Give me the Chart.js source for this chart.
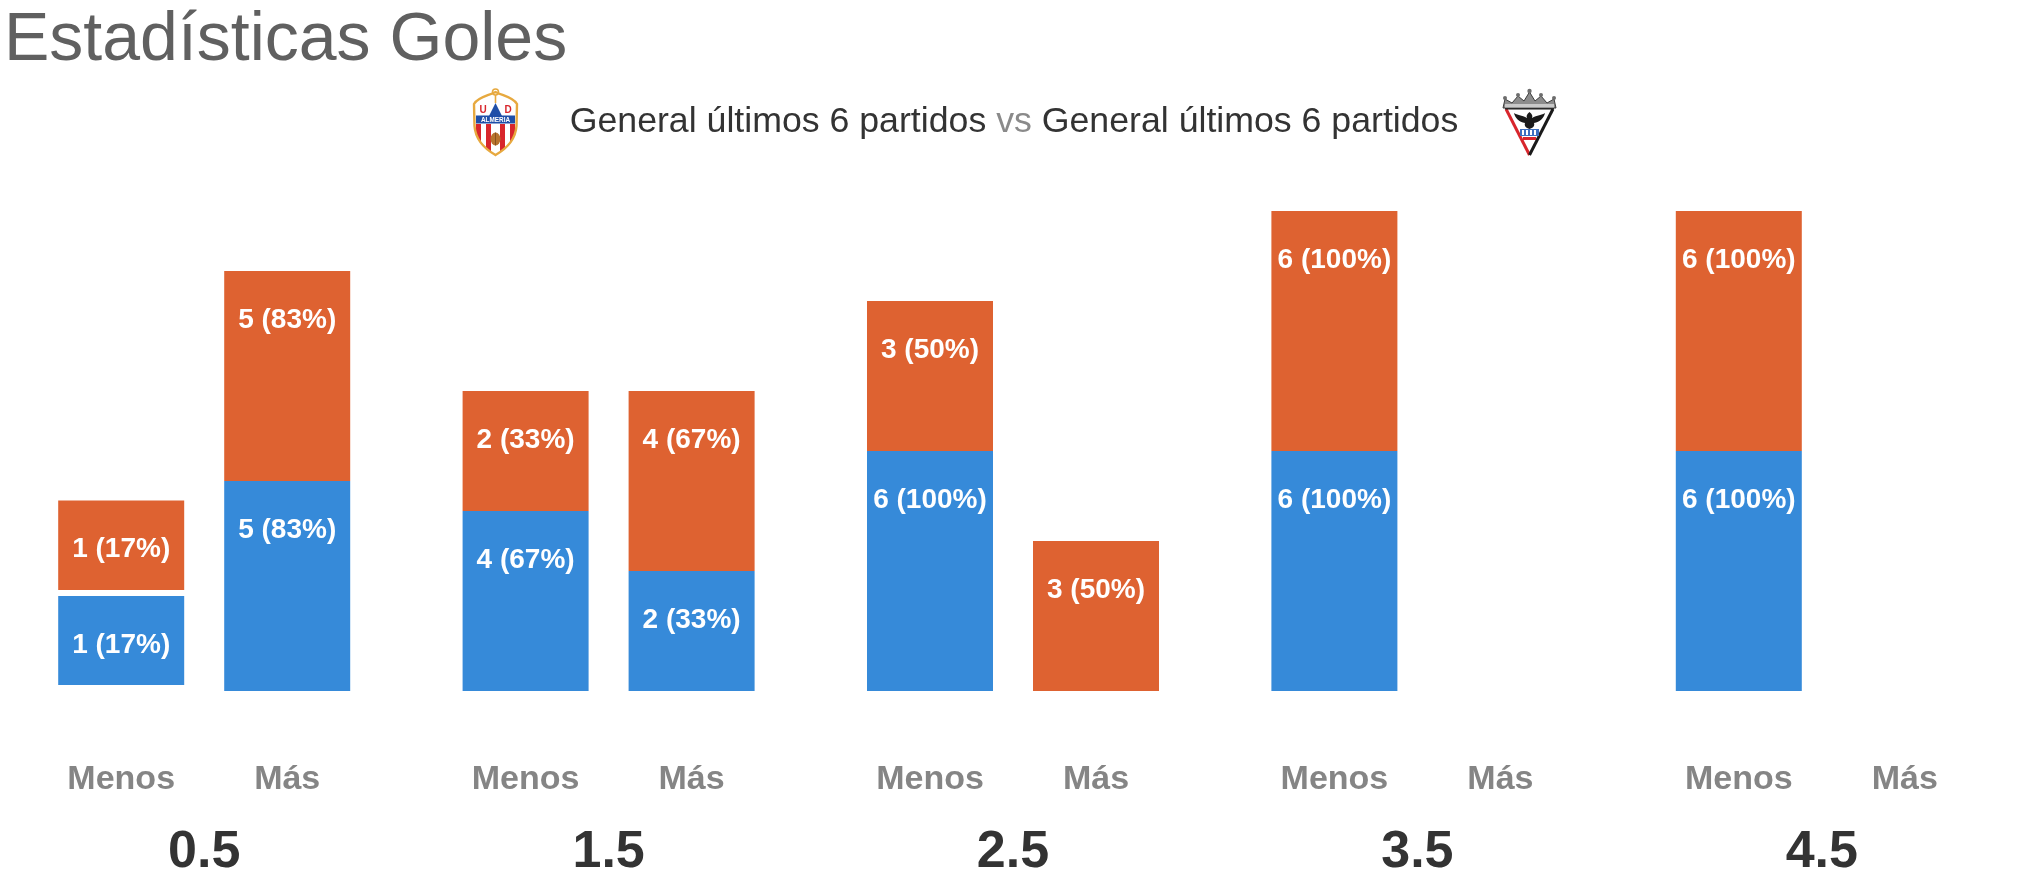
<!DOCTYPE html>
<html lang="es">
<head>
<meta charset="utf-8">
<title>Estadísticas Goles</title>
<script src="https://cdn.jsdelivr.net/npm/chart.js@4.4.1/dist/chart.umd.min.js"></script>
<style>
    html, body {
        margin: 0;
        padding: 0;
        background: #ffffff;
        overflow: hidden;
    }
    #page {
        position: relative;
        width: 2028px;
        height: 888px;
    }
    #goalsChart {
        position: absolute;
        left: 0;
        top: 0;
    }
    .title {
        position: absolute;
        left: 4px;
        top: 2px;
        font-family: "Liberation Sans", Arial, sans-serif;
        font-size: 68px;
        line-height: 1;
        color: #606060;
        white-space: nowrap;
    }
    .subtitle {
        position: absolute;
        left: 0;
        top: 103px;
        width: 2028px;
        text-align: center;
        font-family: "Liberation Sans", Arial, sans-serif;
        font-size: 35.7px;
        line-height: 1;
        color: #333333;
        white-space: nowrap;
    }
    .subtitle .vs {
        color: #8a8a8a;
    }
    .logo {
        position: absolute;
    }
</style>
</head>
<body>
<div id="page">
    <canvas id="goalsChart" width="2028" height="888"></canvas>

    <div class="title">Estadísticas Goles</div>

    <!-- escudo local -->
    <svg class="logo" style="left:470px; top:88px;" width="51" height="69" viewBox="0 0 51 69">
        <defs>
            <clipPath id="shieldClip">
                <path d="M25.5 4 C33 8 43 9 47 16 L46.5 38 C45.5 52 36 61 25.5 67 C15 61 5.5 52 4.5 38 L4 16 C8 9 18 8 25.5 4 Z"/>
            </clipPath>
        </defs>
        <path d="M25.5 4 C33 8 43 9 47 16 L46.5 38 C45.5 52 36 61 25.5 67 C15 61 5.5 52 4.5 38 L4 16 C8 9 18 8 25.5 4 Z" fill="#ffffff"/>
        <g clip-path="url(#shieldClip)">
            <rect x="6" y="36" width="5" height="34" fill="#d8262c"/>
            <rect x="16" y="36" width="5" height="34" fill="#d8262c"/>
            <rect x="30" y="36" width="5" height="34" fill="#d8262c"/>
            <rect x="40" y="36" width="5" height="34" fill="#d8262c"/>
        </g>
        <path d="M25.5 4 C33 8 43 9 47 16 L46.5 38 C45.5 52 36 61 25.5 67 C15 61 5.5 52 4.5 38 L4 16 C8 9 18 8 25.5 4 Z" fill="none" stroke="#e7a93f" stroke-width="2.4"/>
        <circle cx="25.5" cy="4" r="3" fill="none" stroke="#e7a93f" stroke-width="1.6"/>
        <line x1="25.5" y1="7" x2="25.5" y2="15" stroke="#e7a93f" stroke-width="1.6"/>
        <text x="13" y="25" font-family="Liberation Sans, Arial" font-weight="bold" font-size="10" fill="#d8262c" text-anchor="middle">U</text>
        <text x="38" y="25" font-family="Liberation Sans, Arial" font-weight="bold" font-size="10" fill="#d8262c" text-anchor="middle">D</text>
        <polygon points="25.5,15 32,28 19,28" fill="#1f4fa8"/>
        <rect x="6" y="27.5" width="39" height="8" fill="#1f4fa8"/>
        <text x="25.5" y="34" font-family="Liberation Sans, Arial" font-weight="bold" font-size="6.4" fill="#ffffff" text-anchor="middle">ALMERIA</text>
        <ellipse cx="25.5" cy="51" rx="5" ry="6.5" fill="#b8742e"/>
        <line x1="25.5" y1="44.5" x2="25.5" y2="57.5" stroke="#7a4a1a" stroke-width="0.8"/>
    </svg>

    <div class="subtitle">General últimos 6 partidos <span class="vs">vs</span> General últimos 6 partidos</div>

    <!-- escudo visitante -->
    <svg class="logo" style="left:1500px; top:87px;" width="59" height="70" viewBox="0 0 59 70">
        <polygon points="5,21 54,21 29.5,70" fill="#ffffff"/>
        <line x1="6" y1="22" x2="29.5" y2="68" stroke="#d8262c" stroke-width="3"/>
        <line x1="53" y1="22" x2="29.5" y2="68" stroke="#1a1a1a" stroke-width="3"/>
        <line x1="5" y1="21.5" x2="54" y2="21.5" stroke="#1a1a1a" stroke-width="2"/>
        <!-- corona -->
        <path d="M3 21 L5 12 L12 16 L18 9 L24 14 L29.5 5 L35 14 L41 9 L47 16 L54 12 L56 21 Z" fill="#8c8c8c" stroke="#3a3a3a" stroke-width="1"/>
        <circle cx="5" cy="11" r="2" fill="#6d6d6d"/>
        <circle cx="18" cy="8" r="2" fill="#6d6d6d"/>
        <circle cx="29.5" cy="4" r="2.2" fill="#6d6d6d"/>
        <circle cx="41" cy="8" r="2" fill="#6d6d6d"/>
        <circle cx="54" cy="11" r="2" fill="#6d6d6d"/>
        <rect x="5" y="17" width="49" height="3.5" fill="#c9c9c9"/>
        <!-- aguila -->
        <path d="M29.5 25 C27 27 26 29 27 31 C22 28 17 28 14 26 C15 31 19 35 25 36 C24 39 26 41 29.5 42 C33 41 35 39 34 36 C40 35 44 31 45 26 C42 28 37 28 32 31 C33 29 32 27 29.5 25 Z" fill="#1a1a1a"/>
        <rect x="20" y="42" width="19" height="7" fill="#3d6fc0"/>
        <rect x="22" y="43" width="2" height="5" fill="#ffffff"/>
        <rect x="26" y="43" width="2" height="5" fill="#ffffff"/>
        <rect x="30" y="43" width="2" height="5" fill="#ffffff"/>
        <rect x="34" y="43" width="2" height="5" fill="#ffffff"/>
        <rect x="23" y="50" width="13" height="3" fill="#d8262c"/>
    </svg>
</div>

<script>
// lineas de goles (categorias)
const goalLines = ['0.5', '1.5', '2.5', '3.5', '4.5'];
const sideLabels = ['Menos', 'Más'];

// partidos (de 6) y porcentaje, equipo local (azul) y visitante (naranja)
const menosLocal = [1, 4, 6, 6, 6];
const menosLocalPct = [17, 67, 100, 100, 100];
const menosVisit = [1, 2, 3, 6, 6];
const menosVisitPct = [17, 33, 50, 100, 100];
const masLocal = [5, 2, 0, 0, 0];
const masLocalPct = [83, 33, 0, 0, 0];
const masVisit = [5, 4, 3, 0, 0];
const masVisitPct = [83, 67, 50, 0, 0];

// extension de cada tramo [desde, hasta]
const menosLocalBar = [[0.2, 3.17], [0, 6], [0, 8], [0, 8], [0, 8]];
const menosVisitBar = [[3.37, 6.35], [6, 10], [8, 13], [8, 16], [8, 16]];
const masLocalBar = [[0, 7], [0, 4], null, null, null];
const masVisitBar = [[7, 14], [4, 10], [0, 5], null, null];

const BLUE = '#368ad9';
const ORANGE = '#de6231';
const FONT = "'Liberation Sans', Arial, sans-serif";

document.addEventListener("DOMContentLoaded", renderGoalsChart);

// texto "n (p%)" dentro de cada tramo
const segmentLabels = {
    id: 'segmentLabels',
    afterDatasetsDraw(chart) {
        const ctx = chart.ctx;
        ctx.save();
        ctx.font = 'bold 28px ' + FONT;
        ctx.fillStyle = '#ffffff';
        ctx.textAlign = 'center';
        ctx.textBaseline = 'middle';
        chart.data.datasets.forEach((ds, i) => {
            const meta = chart.getDatasetMeta(i);
            meta.data.forEach((bar, j) => {
                if (!ds.data[j] || !ds.counts[j]) return;
                ctx.fillText(ds.counts[j] + ' (' + ds.pcts[j] + '%)', bar.x, bar.y + 49);
            });
        });
        ctx.restore();
    }
};

// "Menos" / "Más" bajo cada columna
const sideTicks = {
    id: 'sideTicks',
    afterDatasetsDraw(chart) {
        const ctx = chart.ctx;
        const y = chart.chartArea.bottom + 98;
        ctx.save();
        ctx.font = 'bold 34px ' + FONT;
        ctx.fillStyle = '#858585';
        ctx.textAlign = 'center';
        ctx.textBaseline = 'alphabetic';
        [0, 2].forEach((dsIndex, k) => {
            chart.getDatasetMeta(dsIndex).data.forEach(bar => {
                ctx.fillText(sideLabels[k], bar.x, y);
            });
        });
        ctx.restore();
    }
};

function renderGoalsChart() {
    const ctx = document.getElementById("goalsChart").getContext("2d");

    new Chart(ctx, {
        type: 'bar',
        data: {
            labels: goalLines,
            datasets: [
                { label: 'Local menos', data: menosLocalBar, counts: menosLocal, pcts: menosLocalPct, backgroundColor: BLUE, stack: 'menos' },
                { label: 'Visitante menos', data: menosVisitBar, counts: menosVisit, pcts: menosVisitPct, backgroundColor: ORANGE, stack: 'menos' },
                { label: 'Local más', data: masLocalBar, counts: masLocal, pcts: masLocalPct, backgroundColor: BLUE, stack: 'mas' },
                { label: 'Visitante más', data: masVisitBar, counts: masVisit, pcts: masVisitPct, backgroundColor: ORANGE, stack: 'mas' }
            ]
        },
        options: {
            responsive: false,
            animation: false,
            categoryPercentage: 0.821,
            barPercentage: 0.759,
            borderSkipped: false,
            layout: {
                padding: { top: 181, left: 2, right: 4, bottom: 0 }
            },
            scales: {
                x: {
                    grid: { display: false, drawTicks: false },
                    border: { display: false },
                    ticks: {
                        color: '#333333',
                        padding: 130,
                        font: { family: FONT, size: 52, weight: 'bold' }
                    },
                    afterFit: function(scale) {
                        scale.height = 197;
                    }
                },
                y: {
                    display: false,
                    stacked: false,
                    min: 0,
                    max: 17
                }
            },
            plugins: {
                legend: { display: false },
                tooltip: { enabled: false }
            }
        },
        plugins: [segmentLabels, sideTicks]
    });
}
</script>
</body>
</html>
